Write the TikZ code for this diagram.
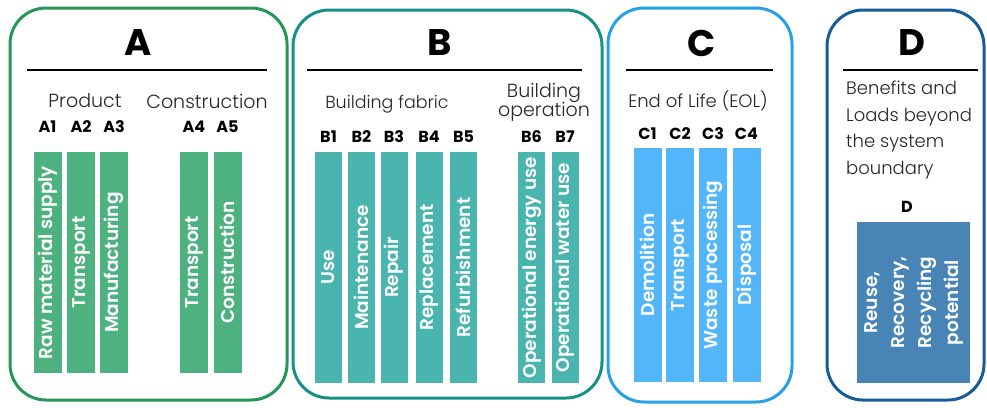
\documentclass[tikz,border=0pt]{standalone}
\usepackage{fontspec}
\setmainfont{Poppins}
\newfontfamily\barfont{Poppins SemiBold}
\newfontfamily\lightfont{Poppins Light}
\usetikzlibrary{positioning}

\definecolor{lineA}{RGB}{36,150,88}
\definecolor{lineB}{RGB}{22,145,135}
\definecolor{lineC}{RGB}{38,160,232}
\definecolor{lineD}{RGB}{22,92,152}
\definecolor{fillA}{RGB}{78,178,128}
\definecolor{fillB}{RGB}{74,180,174}
\definecolor{fillC}{RGB}{84,182,250}
\definecolor{fillD}{RGB}{72,132,182}

\begin{document}
\begin{tikzpicture}[x=1pt,y=-1pt,
  stage/.style={draw=#1, line width=3pt, rounded corners=36pt},
  rule/.style={line width=1.5pt},
  title/.style={font=\bfseries\fontsize{37}{40}\selectfont},
  group/.style={text=black!85, align=center, font=\lightfont\fontsize{19}{22}\selectfont},
  code/.style={font=\bfseries\fontsize{16}{18}\selectfont},
  bar/.style={fill=#1, text=white, rotate=90, inner sep=0pt, align=center,
    font=\barfont\fontsize{18.5}{27}\selectfont}]
\useasboundingbox (0,0) rectangle (987,407);

% the four stage frames
\draw[stage=lineA] (10,8) rectangle (287,400);
\draw[stage=lineB] (293,10) rectangle (602,398);
\draw[stage=lineC] (608,8) rectangle (792,402);
\draw[stage=lineD] (827,10) rectangle (984,400);

\node[title] (tA) at (138,43) {A};
\node[title] (tB) at (440,43) {B};
\node[title] (tC) at (702,43) {C};
\node[title] (tD) at (912,43) {D};

\draw[rule] (27,70) -- (267,70);
\draw[rule] (307,70) -- (582,70);
\draw[rule] (626,70) -- (773,70);
\draw[rule] (843,70) -- (978,70);

% group headings
\node[group] (gProd) at (85,101) {Product};
\node[group] (gCons) at (207,101) {Construction};
\node[group, font=\lightfont\fontsize{17.5}{20}\selectfont] (gFab) at (387,104) {Building fabric};
\node[group] (gOper) at (544,102) {Building\\[-3pt]operation};
\node[group, font=\lightfont\fontsize{18}{20}\selectfont] (gEol) at (698,101) {End of Life (EOL)};
\node[group, align=left, anchor=north west, inner sep=0pt,
  font=\lightfont\fontsize{18}{26.5}\selectfont] (gBen) at (846,81)
  {Benefits and\\Loads beyond\\the system\\boundary};

% module A
\foreach \n/\x/\t in {1/47.5/Raw material supply, 2/81/Transport, 3/114/Manufacturing,
  4/194/Transport, 5/227.5/Construction}{
  \node[code] (lA\n) at (\x,127) {A\n};
  \node[bar=fillA, minimum width=221pt, minimum height=28pt] (bA\n) at (\x,262.5) {\t};
}

% module B
\foreach \n/\x/\t in {1/328.5/Use, 2/361.5/Maintenance, 3/394/Repair, 4/429/Replacement,
  5/463.5/Refurbishment, 6/531.5/Operational energy use, 7/565/Operational water use}{
  \node[code] (lB\n) at (\x,137) {B\n};
  \node[bar=fillB, minimum width=231pt, minimum height=27pt] (bB\n) at (\x,267.5) {\t};
}

% module C
\foreach \n/\x/\t in {1/647.5/Demolition, 2/680/Transport, 3/713/Waste processing,
  4/746.5/Disposal}{
  \node[code] (lC\n) at (\x,134) {C\n};
  \node[bar=fillC, minimum width=234pt, minimum height=28pt] (bC\n) at (\x,265) {\t};
}

% module D
\node[code] (lD) at (907,207) {D};
\node[bar=fillD, minimum width=161pt, minimum height=113pt] (bD) at (913.5,302.5)
  {Reuse,\\Recovery,\\Recycling\\potential};
\end{tikzpicture}
\end{document}
